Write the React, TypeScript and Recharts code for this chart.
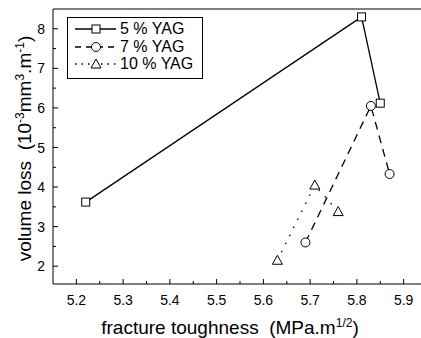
import { Legend, Line, LineChart, ReferenceLine, XAxis, YAxis } from 'recharts';

// fracture toughness (x) vs volume loss (y) for three YAG contents
const yag5X = [5.22, 5.81, 5.85];
const yag5Y = [3.62, 8.3, 6.12];
const yag7X = [5.69, 5.83, 5.87];
const yag7Y = [2.6, 6.05, 4.33];
const yag10X = [5.63, 5.71, 5.76];
const yag10Y = [2.15, 4.05, 3.38];

const seriesNames = ['5 % YAG', '7 % YAG', '10 % YAG'];

const xTicks = [5.2, 5.25, 5.3, 5.35, 5.4, 5.45, 5.5, 5.55, 5.6, 5.65, 5.7, 5.75, 5.8, 5.85, 5.9];
const yTicks = [2, 2.5, 3, 3.5, 4, 4.5, 5, 5.5, 6, 6.5, 7, 7.5, 8];

const FONT = '"Liberation Sans", Arial, sans-serif';

const toPoints = (xs: number[], ys: number[]) => xs.map((x, i) => ({ x, y: ys[i] }));

const isMajor = (v: number, step: number) => Math.abs(v / step - Math.round(v / step)) < 1e-6;

function SquareDot({ cx, cy }: any) {
  if (cx == null || cy == null) return null;
  return <rect x={cx - 4} y={cy - 4} width={8} height={8} fill="#fff" stroke="#000" strokeWidth={1} />;
}

function CircleDot({ cx, cy }: any) {
  if (cx == null || cy == null) return null;
  return <circle cx={cx} cy={cy} r={4.5} fill="#fff" stroke="#000" strokeWidth={1} />;
}

function TriangleDot({ cx, cy }: any) {
  if (cx == null || cy == null) return null;
  return (
    <path
      d={`M${cx},${cy - 5} L${cx + 5},${cy + 4} L${cx - 5},${cy + 4} Z`}
      fill="#fff"
      stroke="#000"
      strokeWidth={1}
    />
  );
}

// bottom axis: label under the axis, tick mark pointing into the plot
function XTick({ x, y, payload }: any) {
  const axisY = y - 11;
  const major = isMajor(payload.value, 0.1);
  return (
    <g>
      <line x1={x} x2={x} y1={axisY} y2={axisY - (major ? 5 : 3)} stroke="#000" />
      {major && (
        <text x={x} y={y} dy="0.71em" textAnchor="middle" fontSize={14} fontFamily={FONT} fill="#000">
          {payload.value.toFixed(1)}
        </text>
      )}
    </g>
  );
}

function YTick({ x, y, payload }: any) {
  const axisX = x + 8;
  const major = isMajor(payload.value, 1);
  return (
    <g>
      <line x1={axisX} x2={axisX + (major ? 5 : 3)} y1={y} y2={y} stroke="#000" />
      {major && (
        <text x={x} y={y} dy="0.36em" textAnchor="end" fontSize={14} fontFamily={FONT} fill="#000">
          {payload.value}
        </text>
      )}
    </g>
  );
}

function XTitle({ viewBox }: any) {
  const cx = viewBox.x + 177;
  return (
    <text x={cx} y={334} textAnchor="middle" fontSize={19} fontFamily={FONT} fill="#000" style={{ whiteSpace: 'pre' }}>
      fracture toughness  (MPa.m
      <tspan dy={-7} fontSize={12}>1/2</tspan>
      <tspan dy={7}>)</tspan>
    </text>
  );
}

function YTitle({ viewBox }: any) {
  const cx = 31;
  const cy = viewBox.y + viewBox.height / 2 + 2;
  return (
    <text
      x={cx}
      y={cy}
      transform={`rotate(-90, ${cx}, ${cy})`}
      textAnchor="middle"
      fontSize={19}
      fontFamily={FONT}
      fill="#000"
      style={{ whiteSpace: 'pre' }}
    >
      volume loss  (10
      <tspan dy={-7} fontSize={12}>-3</tspan>
      <tspan dy={7}>mm</tspan>
      <tspan dy={-7} fontSize={12}>3</tspan>
      <tspan dy={7}>.m</tspan>
      <tspan dy={-7} fontSize={12}>-1</tspan>
      <tspan dy={7}>)</tspan>
    </text>
  );
}

const legendStyles = [
  { dash: undefined, Dot: SquareDot },
  { dash: '6 5', Dot: CircleDot },
  { dash: '1.5 5', Dot: TriangleDot },
];

function LegendBox() {
  return (
    <div
      style={{
        border: '1px solid #000',
        background: '#fff',
        width: 134,
        height: 58,
        boxSizing: 'content-box',
        paddingTop: 2,
      }}
    >
      {seriesNames.map((name, i) => {
        const { dash, Dot } = legendStyles[i];
        return (
          <div key={name} style={{ display: 'flex', alignItems: 'center', height: 17.7 }}>
            <svg width={52} height={16} style={{ display: 'block' }}>
              <line x1={7} x2={48} y1={8} y2={8} stroke="#000" strokeWidth={1.3} strokeDasharray={dash} />
              <Dot cx={28} cy={8} />
            </svg>
            <span style={{ fontFamily: FONT, fontSize: 16, color: '#000', lineHeight: '16px' }}>{name}</span>
          </div>
        );
      })}
    </div>
  );
}

export default function App() {
  return (
    <div style={{ position: 'absolute', left: 0, top: 0, width: 421, height: 338, overflow: 'hidden', background: '#fff' }}>
      <LineChart width={430} height={338} margin={{ top: 9, right: 3, bottom: 0, left: 0 }}>
        <XAxis
          type="number"
          dataKey="x"
          domain={[5.15, 5.95]}
          ticks={xTicks}
          allowDataOverflow
          height={54}
          tickLine={false}
          tickSize={5}
          tickMargin={6}
          tick={<XTick />}
          axisLine={{ stroke: '#000', strokeWidth: 1 }}
          interval={0}
          label={<XTitle />}
        />
        <YAxis
          type="number"
          dataKey="y"
          domain={[1.55, 8.5]}
          ticks={yTicks}
          allowDataOverflow
          width={53}
          tickLine={false}
          tickSize={5}
          tickMargin={3}
          tick={<YTick />}
          axisLine={{ stroke: '#000', strokeWidth: 1 }}
          interval={0}
          label={<YTitle />}
        />
        <ReferenceLine y={8.5} stroke="#000" strokeWidth={1} />
        <Line
          data={toPoints(yag5X, yag5Y)}
          dataKey="y"
          name={seriesNames[0]}
          stroke="#000"
          strokeWidth={1.3}
          dot={<SquareDot />}
          activeDot={false}
          isAnimationActive={false}
        />
        <Line
          data={toPoints(yag7X, yag7Y)}
          dataKey="y"
          name={seriesNames[1]}
          stroke="#000"
          strokeWidth={1.3}
          strokeDasharray="8 6"
          dot={<CircleDot />}
          activeDot={false}
          isAnimationActive={false}
        />
        <Line
          data={toPoints(yag10X, yag10Y)}
          dataKey="y"
          name={seriesNames[2]}
          stroke="#000"
          strokeWidth={1.4}
          strokeDasharray="1.5 7.5"
          dot={<TriangleDot />}
          activeDot={false}
          isAnimationActive={false}
        />
        <Legend
          layout="vertical"
          align="center"
          verticalAlign="middle"
          content={<LegendBox />}
          wrapperStyle={{ left: 67, top: 17, width: 'auto' }}
        />
      </LineChart>
    </div>
  );
}
